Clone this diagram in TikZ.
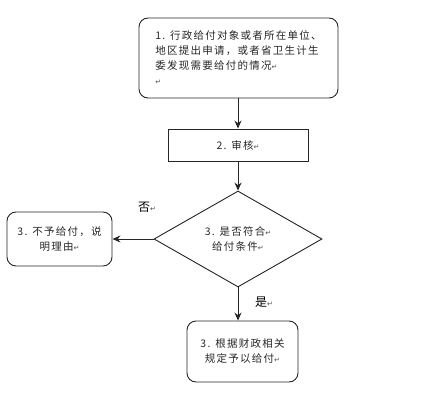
\documentclass[tikz,border=0pt]{standalone}
\usepackage{fontspec}
\newfontfamily\cjk[LetterSpace=12]{Noto Sans CJK SC}
\newfontfamily\cjkb{Noto Sans CJK SC}
\newfontfamily\symf{DejaVu Sans}
\usetikzlibrary{arrows.meta,shapes.geometric}
\newcommand{\rmark}{{\symf\fontsize{7}{7}\selectfont\color{black!70}↵}}
\begin{document}
\begin{tikzpicture}[x=1pt,y=-1pt,
  txt/.style={font=\cjk\fontsize{10.5}{15}\selectfont, text=black!85},
  rbox/.style={draw=black!85, line width=0.9pt, rounded corners=9pt, txt},
  sbox/.style={draw=black!85, line width=0.9pt, txt},
  arr/.style={draw=black!85, line width=1pt, -{Stealth[length=8pt,width=7pt]}}]
\useasboundingbox (0,0) rectangle (435,403);
\node[rbox, minimum width=199pt, minimum height=80pt, align=left, inner sep=0pt] (b1) at (238.5,58)
  {1. 行政给付对象或者所在单位、\\地区提出申请，或者省卫生计生\\委发现需要给付的情况\rmark\\\rmark};
\node[sbox, minimum width=140pt, minimum height=32pt, inner sep=0pt] (b2) at (238,145) {2. 审核\rmark};
\node[draw=black!85, line width=0.9pt, diamond, aspect=1.75, minimum width=168pt, minimum height=96pt, inner sep=0pt, txt, align=center] (d) at (238,239)
  {3. 是否符合\rmark\\给付条件\rmark};
\node[rbox, minimum width=105pt, minimum height=54pt, align=center, inner sep=0pt] (bl) at (59.5,239)
  {3. 不予给付，说\\明理由\rmark};
\node[rbox, minimum width=111pt, minimum height=61pt, align=center, inner sep=0pt] (bb) at (242.5,351.5)
  {3. 根据财政相关\\规定予以给付\rmark};
\draw[arr] (b1.south -| b2.north) -- (b2.north);
\draw[arr] (b2.south) -- (d.north);
\draw[arr] (d.west) -- (bl.east);
\draw[arr] (d.south) -- (d.south |- bb.north);
\node[font=\cjkb\fontsize{12}{12}\selectfont, text=black] (no) at (147,207) {否\rmark};
\node[font=\cjkb\fontsize{12}{12}\selectfont, text=black] (yes) at (264,302) {是\rmark};
\end{tikzpicture}
\end{document}
